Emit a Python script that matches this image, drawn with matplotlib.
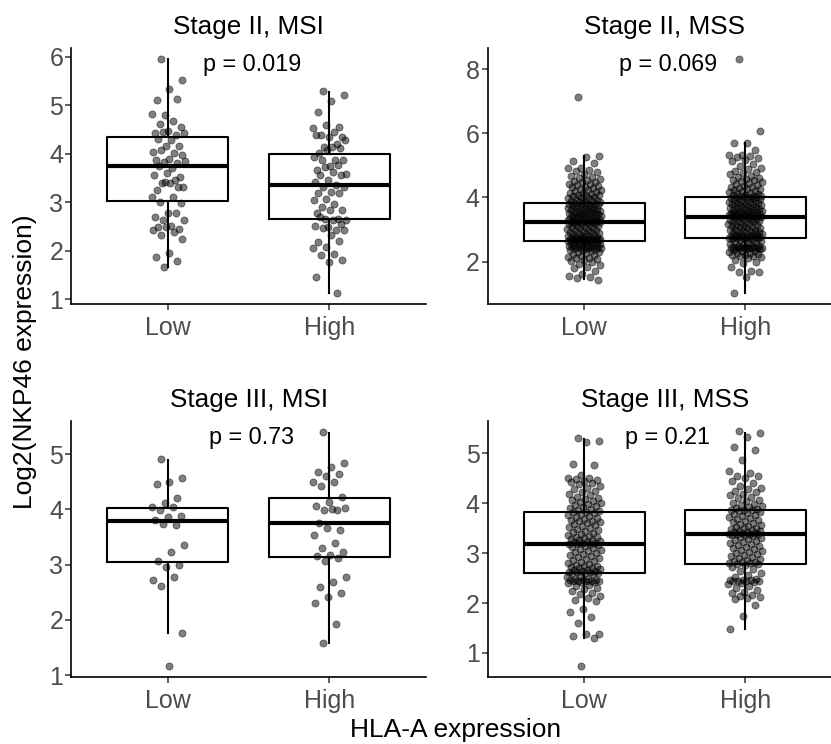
import numpy as np
import matplotlib
matplotlib.use("Agg")
import matplotlib.pyplot as plt

plt.rcParams['font.family'] = ['Liberation Sans', 'DejaVu Sans']

# groups on the x axis
groups = ["Low", "High"]

# panel titles and p-value labels
titles = ["Stage II, MSI", "Stage II, MSS", "Stage III, MSI", "Stage III, MSS"]
pvals = ["p = 0.019", "p = 0.069", "p = 0.73", "p = 0.21"]

# box statistics: [Low, High]
q1 = [[3.015, 2.65], [2.655, 2.75], [3.04, 3.13], [2.61, 2.79]]
med = [[3.74, 3.345], [3.25, 3.40], [3.79, 3.76], [3.19, 3.375]]
q3 = [[4.35, 3.99], [3.82, 4.01], [4.03, 4.20], [3.83, 3.87]]
wlo = [[1.667, 1.13], [1.45, 1.01], [1.755, 1.58], [1.30, 1.48]]
whi = [[5.95, 5.27], [5.28, 5.71], [4.89, 5.39], [5.28, 5.40]]

# individual samples (Log2 NKP46 expression)
ii_msi_low = [5.95, 5.52, 5.34, 5.11, 5.13, 4.80, 4.82, 4.68, 4.62, 4.56, 4.47, 4.43,
              4.38, 4.45, 4.42, 4.29, 4.30, 4.16, 4.16, 4.04, 4.02, 4.07, 3.97, 3.90,
              3.87, 3.80, 3.83, 3.85, 3.70, 3.75, 3.52, 3.60, 3.56, 3.46, 3.39, 3.32,
              3.39, 3.26, 3.32, 3.42, 3.11, 3.10, 3.00, 2.99, 2.77, 2.70, 2.77, 2.63,
              2.63, 2.50, 2.49, 2.45, 2.49, 2.42, 2.38, 2.32, 2.24, 1.96, 1.86, 1.78,
              1.67]
ii_msi_high = [5.29, 5.22, 5.08, 4.85, 4.56, 4.59, 4.52, 4.45, 4.38, 4.35, 4.34, 4.38,
               4.21, 4.14, 4.28, 4.14, 4.01, 4.11, 4.07, 3.94, 3.87, 3.87, 3.87, 3.74,
               3.66, 3.76, 3.73, 3.59, 3.63, 3.56, 3.56, 3.46, 3.42, 3.35, 3.32, 3.32,
               3.21, 3.18, 3.19, 3.06, 3.04, 2.96, 2.91, 2.84, 2.84, 2.77, 2.65, 2.66,
               2.63, 2.63, 2.70, 2.56, 2.49, 2.50, 2.42, 2.46, 2.42, 2.32, 2.18, 2.20,
               2.08, 2.05, 1.94, 1.91, 1.80, 1.77, 1.45, 1.13]
ii_mss_low = [7.13, 5.30, 5.25, 5.12, 5.08, 4.93, 4.91, 4.86, 4.81, 4.79, 4.74, 4.67,
              4.63, 4.61, 4.58, 4.55, 4.52, 4.48, 4.47, 4.43, 4.41, 4.38, 4.36, 4.33,
              4.31, 4.29, 4.26, 4.24, 4.22, 4.19, 4.17, 4.15, 4.13, 4.11, 4.09, 4.07,
              4.05, 4.04, 4.02, 4.00, 3.98, 3.97, 3.95, 3.93, 3.91, 3.90, 3.88, 3.86,
              3.85, 3.83, 3.82, 3.81,
              3.80, 3.79, 3.77, 3.76, 3.75, 3.73, 3.72, 3.71, 3.70, 3.68, 3.67, 3.66,
              3.64, 3.63, 3.62, 3.61, 3.59, 3.58, 3.57, 3.56, 3.55, 3.53, 3.52, 3.51,
              3.50, 3.49, 3.47, 3.46, 3.45, 3.44, 3.43, 3.42, 3.40, 3.39, 3.38, 3.37,
              3.36, 3.35, 3.34, 3.33, 3.32, 3.31, 3.30, 3.29, 3.28, 3.27, 3.27, 3.26,
              3.25, 3.25,
              3.24, 3.23, 3.21, 3.20, 3.19, 3.17, 3.16, 3.14, 3.12, 3.11, 3.09, 3.07,
              3.06, 3.04, 3.02, 3.00, 2.98, 2.97, 2.95, 2.93, 2.91, 2.89, 2.88, 2.86,
              2.85, 2.83, 2.82, 2.81, 2.79, 2.78, 2.77, 2.76, 2.75, 2.74, 2.73, 2.72,
              2.72, 2.71, 2.70, 2.70, 2.69, 2.68, 2.68, 2.67, 2.67, 2.66, 2.66, 2.66,
              2.65, 2.65,
              2.64, 2.62, 2.61, 2.59, 2.58, 2.56, 2.55, 2.53, 2.52, 2.51, 2.49, 2.48,
              2.47, 2.46, 2.46, 2.45, 2.45, 2.44, 2.44, 2.43, 2.42, 2.41, 2.39, 2.37,
              2.35, 2.33, 2.31, 2.29, 2.26, 2.23, 2.21, 2.18, 2.15, 2.12, 2.10, 2.08,
              2.05, 2.03, 1.98, 1.94, 1.90, 1.84, 1.80, 1.72, 1.62, 1.55, 1.51, 1.49,
              1.43]
ii_mss_high = [8.31, 6.08, 5.71, 5.69, 5.48, 5.33, 5.31, 5.28, 5.25, 5.22, 5.17, 5.12,
               5.04, 4.97, 4.92, 4.87, 4.83, 4.80, 4.76, 4.72, 4.68, 4.65, 4.61, 4.58,
               4.55, 4.53, 4.50, 4.47, 4.45, 4.42, 4.39, 4.36, 4.34, 4.31, 4.29, 4.27,
               4.25, 4.23, 4.21, 4.19, 4.17, 4.15, 4.13, 4.11, 4.09, 4.07, 4.05, 4.04,
               4.03, 4.02, 4.01, 4.01, 4.00,
               3.99, 3.97, 3.96, 3.94, 3.93, 3.91, 3.90, 3.88, 3.87, 3.85, 3.84, 3.82,
               3.81, 3.79, 3.78, 3.76, 3.75, 3.74, 3.72, 3.71, 3.70, 3.68, 3.67, 3.66,
               3.64, 3.63, 3.62, 3.60, 3.59, 3.58, 3.57, 3.56, 3.54, 3.53, 3.52, 3.51,
               3.50, 3.49, 3.48, 3.47, 3.46, 3.45, 3.44, 3.43, 3.42, 3.42, 3.41, 3.41,
               3.40, 3.40,
               3.39, 3.37, 3.36, 3.34, 3.33, 3.31, 3.30, 3.28, 3.27, 3.25, 3.23, 3.22,
               3.20, 3.18, 3.17, 3.15, 3.13, 3.12, 3.10, 3.08, 3.07, 3.05, 3.04, 3.02,
               3.00, 2.99, 2.97, 2.96, 2.94, 2.93, 2.91, 2.90, 2.88, 2.87, 2.86, 2.84,
               2.83, 2.82, 2.81, 2.80, 2.79, 2.79, 2.78, 2.77, 2.77, 2.76, 2.76, 2.75,
               2.75, 2.75,
               2.74, 2.72, 2.70, 2.68, 2.66, 2.64, 2.62, 2.60, 2.58, 2.56, 2.54, 2.52,
               2.50, 2.48, 2.47, 2.46, 2.45, 2.45, 2.44, 2.44, 2.44, 2.43, 2.43, 2.42,
               2.42, 2.41, 2.40, 2.38, 2.36, 2.34, 2.32, 2.30, 2.28, 2.26, 2.24, 2.22,
               2.20, 2.18, 2.16, 2.13, 2.10, 2.05, 2.00, 1.95, 1.84, 1.72, 1.69, 1.67,
               1.53, 1.03]
iii_msi_low = [4.91, 4.56, 4.50, 4.46, 4.20, 4.11, 4.05, 4.04, 3.98, 3.88, 3.86, 3.81,
               3.72, 3.73, 3.36, 3.22, 3.07, 2.99, 2.95, 2.73, 2.78, 2.61, 1.76, 1.17]
iii_msi_high = [5.40, 4.84, 4.76, 4.67, 4.64, 4.60, 4.50, 4.50, 4.43, 4.22, 4.14, 4.07,
                3.98, 3.99, 4.03, 4.00, 3.76, 3.63, 3.66, 3.54, 3.40, 3.30, 3.23, 3.18,
                3.15, 3.12, 3.07, 2.77, 2.69, 2.60, 2.48, 2.42, 2.31, 1.92, 1.58]
iii_mss_low = [5.30, 5.25, 5.23, 4.78, 4.76, 4.56, 4.51, 4.50, 4.48, 4.46, 4.44, 4.42,
               4.40, 4.38, 4.34, 4.31, 4.28, 4.25, 4.22, 4.19, 4.16, 4.13, 4.10, 4.08,
               4.06, 4.04, 4.02, 4.00, 3.98, 3.96, 3.94, 3.92, 3.90, 3.88, 3.86, 3.84,
               3.83, 3.83,
               3.81, 3.79, 3.77, 3.75, 3.73, 3.71, 3.69, 3.67, 3.65, 3.64, 3.62, 3.60,
               3.58, 3.56, 3.54, 3.52, 3.50, 3.48, 3.46, 3.44, 3.42, 3.40, 3.38, 3.36,
               3.34, 3.33, 3.32, 3.30, 3.28, 3.27, 3.26, 3.24, 3.23, 3.22, 3.21, 3.20,
               3.19, 3.19,
               3.18, 3.16, 3.14, 3.12, 3.10, 3.08, 3.06, 3.04, 3.02, 3.00, 2.98, 2.96,
               2.94, 2.92, 2.90, 2.88, 2.86, 2.84, 2.82, 2.80, 2.78, 2.77, 2.75, 2.74,
               2.72, 2.71, 2.70, 2.68, 2.67, 2.66, 2.65, 2.64, 2.63, 2.62, 2.62, 2.61,
               2.61, 2.61,
               2.58, 2.55, 2.52, 2.49, 2.48, 2.47, 2.46, 2.46, 2.45, 2.45, 2.45, 2.44,
               2.44, 2.43, 2.42, 2.40, 2.37, 2.34, 2.31, 2.28, 2.25, 2.21, 2.18, 2.15,
               2.10, 2.07, 2.05, 1.87, 1.82, 1.72, 1.60, 1.38, 1.37, 1.33, 1.30, 0.74]
iii_mss_high = [5.45, 5.40, 5.33, 5.12, 5.07, 4.87, 4.65, 4.60, 4.55, 4.55, 4.50, 4.45,
                4.40, 4.35, 4.31, 4.28, 4.25, 4.22, 4.19, 4.16, 4.13, 4.10, 4.07, 4.04,
                4.01, 3.98, 3.96, 3.94, 3.92, 3.90, 3.88, 3.87, 3.87,
                3.86, 3.84, 3.82, 3.80, 3.78, 3.76, 3.74, 3.72, 3.70, 3.68, 3.66, 3.64,
                3.62, 3.60, 3.58, 3.56, 3.55, 3.53, 3.51, 3.50, 3.48, 3.47, 3.45, 3.44,
                3.43, 3.42, 3.41, 3.40, 3.39, 3.39, 3.38, 3.38, 3.37,
                3.36, 3.34, 3.32, 3.30, 3.28, 3.26, 3.24, 3.22, 3.20, 3.18, 3.16, 3.14,
                3.12, 3.10, 3.08, 3.06, 3.04, 3.02, 3.00, 2.98, 2.96, 2.94, 2.92, 2.90,
                2.88, 2.86, 2.84, 2.83, 2.82, 2.81, 2.80, 2.79, 2.79,
                2.76, 2.72, 2.68, 2.64, 2.60, 2.56, 2.52, 2.49, 2.47, 2.46, 2.46, 2.45,
                2.45, 2.44, 2.44, 2.43, 2.41, 2.38, 2.35, 2.31, 2.27, 2.23, 2.20, 2.17,
                2.14, 2.12, 2.10, 2.08, 1.95, 1.73, 1.47]

samples = [[ii_msi_low, ii_msi_high], [ii_mss_low, ii_mss_high],
           [iii_msi_low, iii_msi_high], [iii_mss_low, iii_mss_high]]

ylims = [(0.9, 6.18), (0.68, 8.655), (0.96, 5.60), (0.51, 5.65)]
yticks = [[1, 2, 3, 4, 5, 6], [2, 4, 6, 8], [1, 2, 3, 4, 5], [1, 2, 3, 4, 5]]


def spread(n, half=0.1):
    # deterministic quasi-jitter (golden ratio sequence)
    k = np.arange(n)
    return ((k * 0.6180339887 + 0.31) % 1.0 - 0.5) * 2 * half


W, H = 831, 744
fig = plt.figure(figsize=(W / 100, H / 100), dpi=100)

# axes boxes in pixels: left, top, right, bottom
boxes = [(71, 48, 426.3, 304), (487.5, 48, 842, 304),
         (71, 421, 426.3, 677.3), (487.5, 421, 842, 677.3)]

for i, (l, t, r, b) in enumerate(boxes):
    ax = fig.add_axes([l / W, 1 - b / H, (r - l) / W, (b - t) / H])
    stats = []
    for g in range(2):
        stats.append(dict(q1=q1[i][g], med=med[i][g], q3=q3[i][g],
                          whislo=wlo[i][g], whishi=whi[i][g], fliers=[]))
    ax.bxp(stats, positions=[1, 2], widths=0.75, showfliers=False, showcaps=False,
           boxprops=dict(color='black', linewidth=1.5),
           whiskerprops=dict(color='black', linewidth=1.5),
           medianprops=dict(color='black', linewidth=3.0, solid_capstyle='butt'))
    for g in range(2):
        vals = np.array(samples[i][g])
        xs = g + 1 + spread(len(vals), 0.105)
        ax.scatter(xs, vals, s=26, facecolor=(0, 0, 0, 0.5),
                   edgecolor=(0, 0, 0, 0.5), linewidth=0.6, zorder=3)

    ax.set_xlim(0.4, 2.6)
    ax.set_ylim(*ylims[i])
    ax.set_xticks([1, 2])
    ax.set_xticklabels(groups)
    ax.set_yticks(yticks[i])
    for s in ['top', 'right']:
        ax.spines[s].set_visible(False)
    for s in ['left', 'bottom']:
        ax.spines[s].set_linewidth(1.2)
    ax.tick_params(axis='both', direction='out', length=4, width=1.1,
                   color='#333333', labelcolor='#4D4D4D', labelsize=18)
    ax.tick_params(axis='x', pad=4.5)
    ax.tick_params(axis='y', pad=1.5)
    ax.set_title(titles[i], fontsize=18.8, pad=10)
    ax.text(1.52, 0.91, pvals[i], transform=ax.get_xaxis_transform(),
            ha='center', va='baseline', fontsize=16.8)

fig.text(25 / W, 1 - 362 / H, "Log2(NKP46 expression)", rotation=90,
         ha='center', va='center', fontsize=19)
fig.text(456 / W, 1 - 730 / H, "HLA-A expression", ha='center', va='center',
         fontsize=19)

fig.savefig("out.png", dpi=100)
